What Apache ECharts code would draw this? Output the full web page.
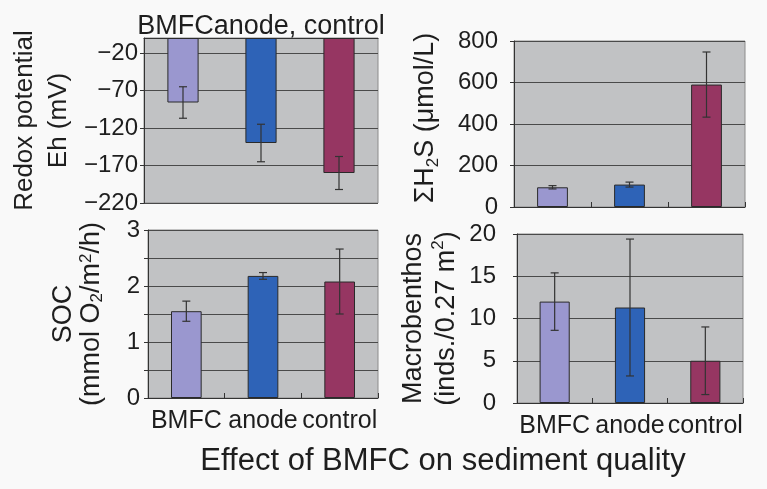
<!DOCTYPE html>
<html>
<head>
<meta charset="utf-8">
<script src="https://cdn.jsdelivr.net/npm/echarts@6/dist/echarts.min.js"></script>
<style>
  html, body { margin: 0; padding: 0; background: #f9f9f9; }
  #chart { width: 767px; height: 489px; }
</style>
</head>
<body>
<div id="chart"></div>
<script>
// Treatments shared by all four panels
const categories = ['BMFC', 'anode', 'control'];

// Redox potential Eh (mV): mean and error
const redoxMean = [-86, -140, -180];
const redoxErr = [21, 25, 22];

// Total sulfide ΣH2S (µmol/L)
const h2sMean = [95, 108, 590];
const h2sErr = [8, 12, 157];

// Sediment oxygen consumption (mmol O2/m²/h)
const socMean = [1.55, 2.18, 2.08];
const socErr = [0.18, 0.06, 0.58];

// Macrobenthos (inds./0.27 m²)
const benthosMean = [12.0, 11.3, 5.0];
const benthosErr = [3.4, 8.1, 4.0];

const barColors = ['#9a97cf', '#2e63b7', '#963662'];
const FONT = 'Liberation Sans, Arial, Helvetica, sans-serif';
const TEXT = '#1e1e1e';
const PAGE_BG = '#f9f9f9';
const PLOT_BG = '#c1c2c4';

const chart = echarts.init(document.getElementById('chart'), null, { renderer: 'canvas' });

const grids = [
  { left: 144, top: 38, width: 234, height: 165 },
  { left: 514, top: 41, width: 231, height: 166 },
  { left: 148, top: 230, width: 230, height: 168 },
  { left: 517, top: 234, width: 226, height: 169 }
];

const minusSign = v => String(v).replace('-', '\u2212');

function xAxisFor(gridIndex, opts) {
  return Object.assign({
    type: 'category',
    gridIndex,
    data: categories,
    axisLine: { show: true, lineStyle: { color: '#333', width: 1 } },
    axisTick: { show: true, inside: true, length: 5, alignWithLabel: false, lineStyle: { color: '#333' } },
    axisLabel: { show: false },
    splitLine: { show: false },
    splitArea: { show: false }
  }, opts);
}

function yAxisFor(gridIndex, opts) {
  return Object.assign({
    type: 'value',
    gridIndex,
    axisLine: { show: true, onZero: false, lineStyle: { color: '#333', width: 1 } },
    axisTick: { show: true, length: 4, lineStyle: { color: '#333' } },
    splitLine: { show: true, lineStyle: { color: '#4a4a4a', width: 1 } },
    splitArea: { show: false },
    nameLocation: 'middle',
    nameRotate: 90
  }, opts);
}

const tickLabel = (margin, extra) => Object.assign({
  fontSize: 24, fontFamily: FONT, color: TEXT, margin
}, extra || {});

const catLabel = { show: true, interval: 0, fontSize: 25, fontFamily: FONT, color: TEXT, margin: 11 };

const xAxes = [
  xAxisFor(0, {
    position: 'top',
    axisTick: { show: false },
    name: 'BMFCanode, control',
    nameLocation: 'middle',
    nameGap: -2,
    nameTextStyle: { fontSize: 27, fontFamily: FONT, color: TEXT }
  }),
  xAxisFor(1, {}),
  xAxisFor(2, { axisLabel: catLabel }),
  xAxisFor(3, { axisLabel: catLabel })
];

const yAxes = [
  yAxisFor(0, {
    min: -220, max: 0, interval: 50,
    axisLabel: tickLabel(6, { showMaxLabel: false, formatter: minusSign }),
    name: 'Redox potential\nEh (mV)',
    nameGap: 68,
    nameTextStyle: { fontSize: 26, fontFamily: FONT, color: TEXT, lineHeight: 34 }
  }),
  yAxisFor(1, {
    min: 0, max: 800, interval: 200,
    axisLabel: tickLabel(16),
    name: 'ΣH{sub|2}S (μmol/L)',
    nameGap: 72,
    nameTextStyle: { fontSize: 27, fontFamily: FONT, color: TEXT, lineHeight: 32, padding: [0, 0, 0, 12], rich: {
      sub: { fontSize: 17, fontFamily: FONT, color: TEXT, verticalAlign: 'bottom', lineHeight: 32 }
    } }
  }),
  yAxisFor(2, {
    min: 0, max: 3, interval: 0.5,
    axisLabel: tickLabel(8, { formatter: v => (Math.abs(v % 1) < 1e-9 ? String(v) : '') }),
    name: 'SOC\n(mmol O{sub|2}/m{sup|2}/h)',
    nameGap: 42,
    nameTextStyle: { fontSize: 27, fontFamily: FONT, color: TEXT, lineHeight: 28, rich: {
      sub: { fontSize: 17, fontFamily: FONT, color: TEXT, verticalAlign: 'bottom', lineHeight: 28 },
      sup: { fontSize: 17, fontFamily: FONT, color: TEXT, verticalAlign: 'top', lineHeight: 28 }
    } }
  }),
  yAxisFor(3, {
    min: 0, max: 20, interval: 5,
    axisLabel: tickLabel(21),
    name: 'Macrobenthos\n(inds./0.27 m{sup|2})',
    nameGap: 54,
    nameTextStyle: { fontSize: 27, fontFamily: FONT, color: TEXT, lineHeight: 33, rich: {
      sup: { fontSize: 17, fontFamily: FONT, color: TEXT, verticalAlign: 'top', lineHeight: 33 }
    } }
  })
];

const panels = [
  { mean: redoxMean, err: redoxErr },
  { mean: h2sMean, err: h2sErr },
  { mean: socMean, err: socErr },
  { mean: benthosMean, err: benthosErr }
];

// Grey plotting area with its thin frame, sized from the coordinate system
function plotBackground(params) {
  const cs = params.coordSys;
  return {
    type: 'rect',
    shape: { x: cs.x, y: cs.y, width: cs.width, height: cs.height },
    style: { fill: PLOT_BG, stroke: '#8c8c8c', lineWidth: 1 }
  };
}

function errorBarItem(params, api) {
  const xi = api.value(0);
  const lo = api.coord([xi, api.value(1)]);
  const hi = api.coord([xi, api.value(2)]);
  const cap = 4;
  const style = { stroke: '#333', lineWidth: 1.2 };
  return {
    type: 'group',
    children: [
      { type: 'line', shape: { x1: lo[0], y1: lo[1], x2: hi[0], y2: hi[1] }, style },
      { type: 'line', shape: { x1: lo[0] - cap, y1: lo[1], x2: lo[0] + cap, y2: lo[1] }, style },
      { type: 'line', shape: { x1: hi[0] - cap, y1: hi[1], x2: hi[0] + cap, y2: hi[1] }, style }
    ]
  };
}

const series = [];
panels.forEach((p, i) => {
  series.push({
    type: 'custom',
    xAxisIndex: i,
    yAxisIndex: i,
    renderItem: plotBackground,
    data: [[0, 0]],
    z: -10,
    silent: true,
    animation: false
  });
  series.push({
    type: 'bar',
    xAxisIndex: i,
    yAxisIndex: i,
    barWidth: '40%',
    data: p.mean,
    itemStyle: {
      color: params => barColors[params.dataIndex],
      borderColor: '#2a2a2a',
      borderWidth: 1
    },
    silent: true,
    animation: false
  });
  series.push({
    type: 'custom',
    xAxisIndex: i,
    yAxisIndex: i,
    renderItem: errorBarItem,
    data: p.mean.map((m, k) => [k, m - p.err[k], m + p.err[k]]),
    z: 5,
    silent: true,
    animation: false
  });
});

chart.setOption({
  backgroundColor: PAGE_BG,
  animation: false,
  grid: grids,
  xAxis: xAxes,
  yAxis: yAxes,
  series,
  graphic: [{
    type: 'text',
    x: 443,
    y: 461,
    style: {
      text: 'Effect of BMFC on sediment quality',
      fontSize: 31,
      fontFamily: FONT,
      fill: TEXT,
      textAlign: 'center',
      textVerticalAlign: 'middle'
    }
  }]
});
</script>
</body>
</html>
